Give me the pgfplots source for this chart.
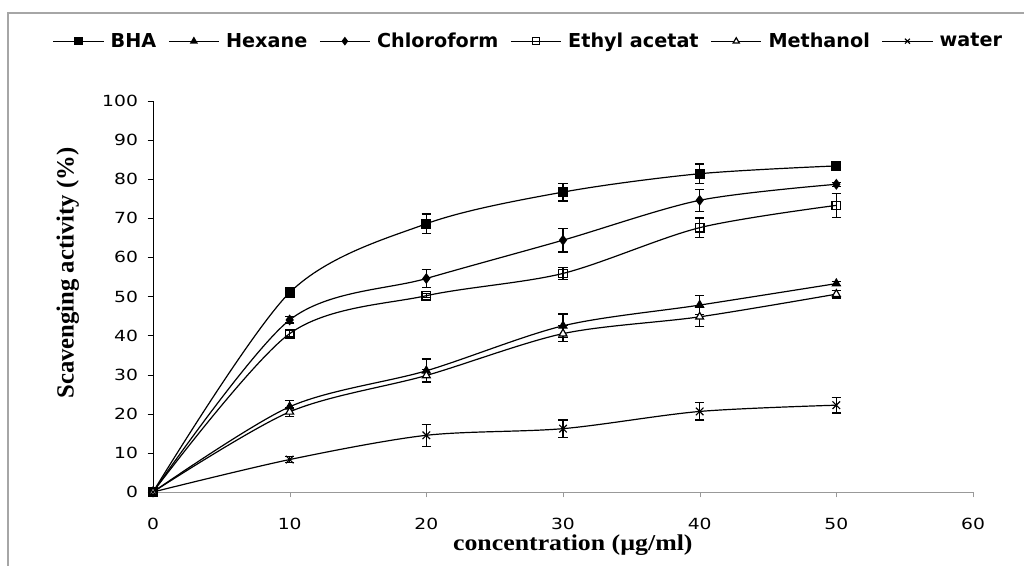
\documentclass[border=0pt]{standalone}
\usepackage{pgfplots}
\pgfplotsset{compat=1.18}
\usetikzlibrary{calc}
\usepackage{fontspec}
\setmainfont{Liberation Serif}
\newfontfamily\tickfont{DejaVu Sans}

\begin{document}
\begin{tikzpicture}
\begin{axis}[
    name=ax,
    scale only axis,
    width=615pt, height=293.25pt,
    xmin=0, xmax=60, ymin=0, ymax=100,
    xtick={0,10,...,60}, ytick={0,10,...,100},
    axis x line=bottom, axis y line=left,
    axis line style={-},
    x axis line style={draw=gray!80},
    y axis line style={draw=black},
    xtick style={draw=gray!80},
    ytick style={draw=black},
    tick align=outside,
    major tick length=4pt,
    ticklabel style={font=\tickfont\fontsize{11.5}{13}\selectfont, xscale=1.22},
    /pgf/number format/assume math mode=true,
    xticklabel shift=12pt,
    yticklabel shift=3pt,
    xlabel={\bfseries concentration (µg/ml)},
    ylabel={\bfseries Scavenging activity (\%)},
    xlabel style={font=\fontsize{17}{20}\selectfont, xscale=1.14,
        at={(axis description cs:0.512,-0.136)}, anchor=center},
    ylabel style={font=\fontsize{18.5}{20}\selectfont,
        at={(axis description cs:-0.104,0.56)}, anchor=center},
    legend columns=6,
    legend style={at={(0.4567,1.153)}, anchor=center, draw=none,
        font=\tickfont\bfseries\fontsize{14.4}{16}\selectfont,
        nodes={inner sep=0pt},
        /tikz/every odd column/.append style={column sep=5pt},
        /tikz/every even column/.append style={column sep=9pt}},
    legend cell align=left,
    legend image code/.code={
        \draw[mark repeat=2, mark phase=2, #1, mark size=2.6pt]
            plot coordinates {(0pt,0pt) (18.75pt,0pt) (37.5pt,0pt)};},
    every axis plot/.append style={black, line width=0.9pt, smooth, tension=0.5},
    error bars/y dir=both, error bars/y explicit,
    error bars/error mark options={rotate=90, mark size=3.6pt, line width=0.9pt, black},
    error bars/error bar style={line width=0.9pt, black},
]
% BHA
\addplot[mark=square*, mark size=3.4pt, mark options={fill=black, solid}]
  coordinates {(0,0)+-(0,0.6) (10,51)+-(0,1) (20,68.6)+-(0,2.5) (30,76.7)+-(0,2.3) (40,81.4)+-(0,2.5) (50,83.4)+-(0,0.5)};
\addlegendentry{BHA}
% Hexane
\addplot[mark=triangle*, mark size=3.4pt, mark options={fill=black, solid}]
  coordinates {(0,0)+-(0,0.6) (10,21.8)+-(0,1.7) (20,31)+-(0,3) (30,42.5)+-(0,3) (40,47.8)+-(0,2.5) (50,53.3)+-(0,0.5)};
\addlegendentry{Hexane}
% Chloroform
\addplot[mark=diamond*, mark size=3.4pt, mark options={fill=black, solid}]
  coordinates {(0,0)+-(0,0.6) (10,44)+-(0,0.8) (20,54.6)+-(0,2.3) (30,64.4)+-(0,3) (40,74.6)+-(0,2.8) (50,78.7)+-(0,0.5)};
\addlegendentry{Chloroform}
% Ethyl acetate
\addplot[mark=square, mark size=3.2pt, mark options={fill=white, solid}]
  coordinates {(0,0)+-(0,0.6) (10,40.5)+-(0,0.8) (20,50.2)+-(0,0.5) (30,55.9)+-(0,1.5) (40,67.6)+-(0,2.5) (50,73.3)+-(0,3)};
\addlegendentry{Ethyl acetat}
% Methanol
\addplot[mark=triangle*, mark size=3.4pt, mark options={fill=white, solid}]
  coordinates {(0,0)+-(0,0.6) (10,20.5)+-(0,1.2) (20,29.8)+-(0,1.5) (30,40.5)+-(0,2) (40,44.8)+-(0,2.5) (50,50.6)+-(0,1)};
\addlegendentry{Methanol}
% water
\addplot[mark=x, mark size=4pt, mark options={solid}]
  coordinates {(0,0)+-(0,0.6) (10,8.3)+-(0,0.8) (20,14.5)+-(0,2.8) (30,16.2)+-(0,2.2) (40,20.6)+-(0,2.2) (50,22.2)+-(0,2)};
\addlegendentry{water}
\end{axis}
\useasboundingbox ($(ax.south west)+(-114.75pt,-55.5pt)$) rectangle ($(ax.south west)+(653.25pt,369pt)$);
\draw[gray!70, line width=1.2pt] ($(ax.south west)+(-108.75pt,-55.5pt)$) -- ($(ax.south west)+(-108.75pt,359.25pt)$) -- ($(ax.south west)+(653.25pt,359.25pt)$);
\end{tikzpicture}
\end{document}
